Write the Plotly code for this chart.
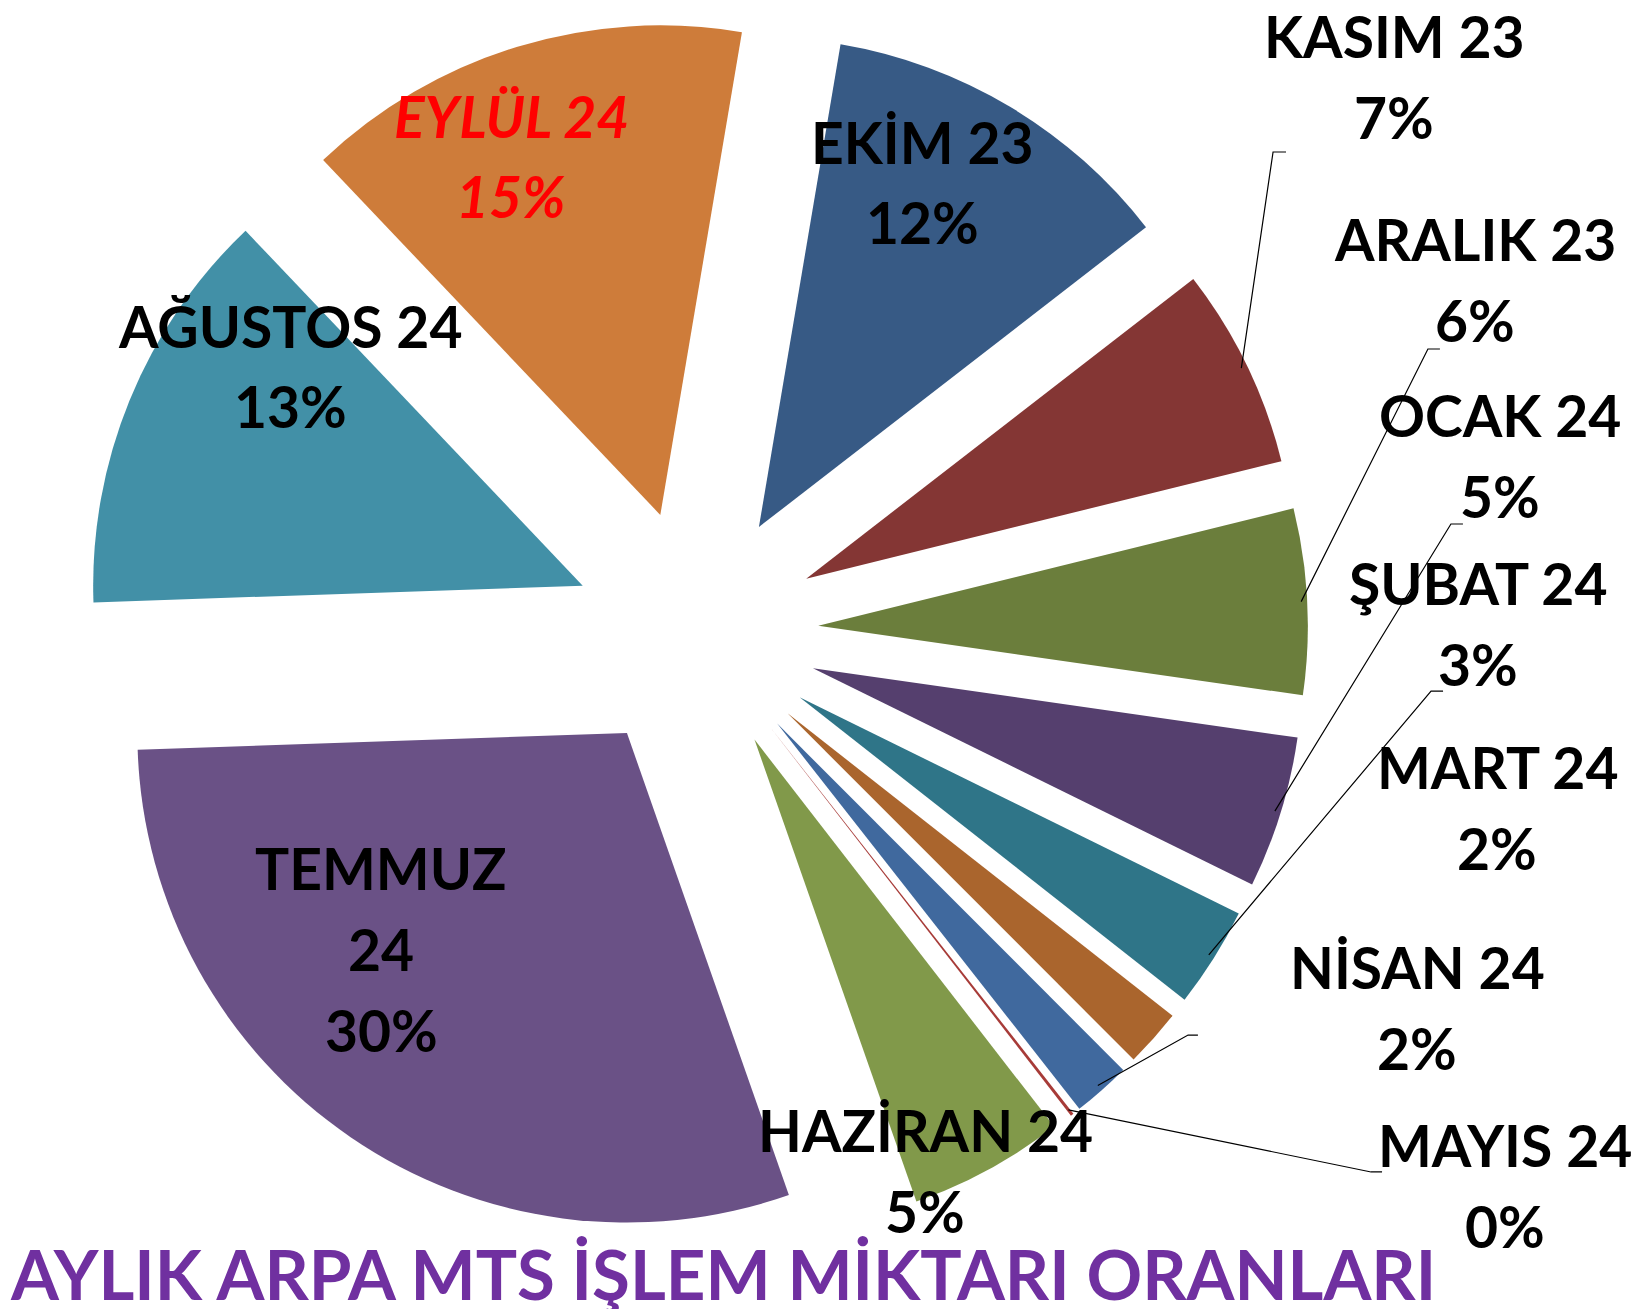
import math
import plotly.graph_objects as go

# monthly share of barley MTS trades (percent), clockwise from EKİM
months = ["EKİM 23", "KASIM 23", "ARALIK 23", "OCAK 24", "ŞUBAT 24", "MART 24",
          "NİSAN 24", "MAYIS 24", "HAZİRAN 24", "TEMMUZ 24", "AĞUSTOS 24", "EYLÜL 24"]
shares = [11.8, 6.6, 6.1, 5.0, 3.3, 1.9, 1.9, 0.1, 5.1, 29.7, 13.4, 14.7]
colors = ["#375A85", "#843634", "#6B7E3C", "#553F6E", "#2F7588", "#AA652D",
          "#40699E", "#A73B38", "#81994A", "#6A5186", "#4290A7", "#CE7C3A"]

W, H = 1644, 1309
dom_x = [0.0462, 0.7908]
dom_y = [0.0558, 0.9908]
rotation = 9.6
pull = 0.25
line_gap = 81  # px between text lines of a label

# label centres (px) and leader line anchors (px) for the outside labels
label_pos = {
    "EKİM 23": (914, 174), "KASIM 23": (1386, 68), "ARALIK 23": (1467, 272),
    "OCAK 24": (1492, 447), "ŞUBAT 24": (1470, 615), "MART 24": (1489, 799),
    "NİSAN 24": (1409, 999), "MAYIS 24": (1497, 1177), "HAZİRAN 24": (917, 1162),
    "TEMMUZ 24": (373, 941), "AĞUSTOS 24": (282, 358), "EYLÜL 24": (503, 148),
}
leaders = {
    "KASIM 23": [(1278, 144), (1265, 144)],
    "ARALIK 23": [(1432, 341), (1420, 341)],
    "OCAK 24": [(1455, 516), (1443, 516)],
    "ŞUBAT 24": [(1435, 683), (1423, 683)],
    "NİSAN 24": [(1190, 1027), (1180, 1027)],
    "MAYIS 24": [(1374, 1164), (1363, 1164)],
}

fig = go.Figure(go.Pie(
    labels=months, values=shares, sort=False, direction="clockwise",
    rotation=rotation, pull=[pull] * len(months),
    marker=dict(colors=colors, line=dict(width=0)),
    textinfo="none", hoverinfo="label+percent",
    domain=dict(x=dom_x, y=dom_y), showlegend=False,
))

# pie geometry, same as plotly's own layout of the trace
box_w = W * (dom_x[1] - dom_x[0])
box_h = H * (dom_y[1] - dom_y[0])
r = min(box_w, box_h) / 2 / (1 + pull)
cx = W * (dom_x[0] + dom_x[1]) / 2
cy = H * (1 - (dom_y[0] + dom_y[1]) / 2)
total = sum(shares)

def px2paper(x, y):
    return x / W, 1 - y / H

annotations = []
shapes = []
cum = 0
for name, v in zip(months, shares):
    mid = math.radians(rotation + 360 * (cum + v / 2) / total)
    cum += v
    pct = round(v / total * 100)
    lines = name.split(" ") if name == "TEMMUZ 24" else [name]
    lines = lines + [f"{pct}%"]
    fcol, italic = ("#FF0000", True) if name == "EYLÜL 24" else ("black", False)
    lx, ly = label_pos[name]
    for k, t in enumerate(lines):
        yk = ly + (k - (len(lines) - 1) / 2) * line_gap
        px, py = px2paper(lx, yk)
        annotations.append(dict(
            x=px, y=py, xref="paper", yref="paper",
            text=f"<i>{t}</i>" if italic else t, showarrow=False,
            xanchor="center", yanchor="middle",
            font=dict(family="Lato", size=57, color=fcol, weight="bold"),
        ))
    if name in leaders:
        ex = cx + r * (1 + pull) * math.sin(mid) * 0.99
        ey = cy - r * (1 + pull) * math.cos(mid) * 0.99
        pts = leaders[name] + [(ex, ey)]
        path = "M " + " L ".join(f"{px2paper(x, y)[0]:.4f},{px2paper(x, y)[1]:.4f}" for x, y in pts)
        shapes.append(dict(type="path", path=path, xref="paper", yref="paper",
                           line=dict(color="black", width=1.2)))

fig.update_layout(
    width=W, height=H, margin=dict(l=0, r=0, t=0, b=0),
    paper_bgcolor="white", plot_bgcolor="white",
    annotations=annotations, shapes=shapes,
    title=dict(text="AYLIK ARPA MTS İŞLEM MİKTARI ORANLARI", x=0.4353, xanchor="center",
               y=1 - 1268 / H, yanchor="middle",
               font=dict(family="Lato", size=69, color="#7030A0", weight="bold")),
)

fig.write_html("out.html")
